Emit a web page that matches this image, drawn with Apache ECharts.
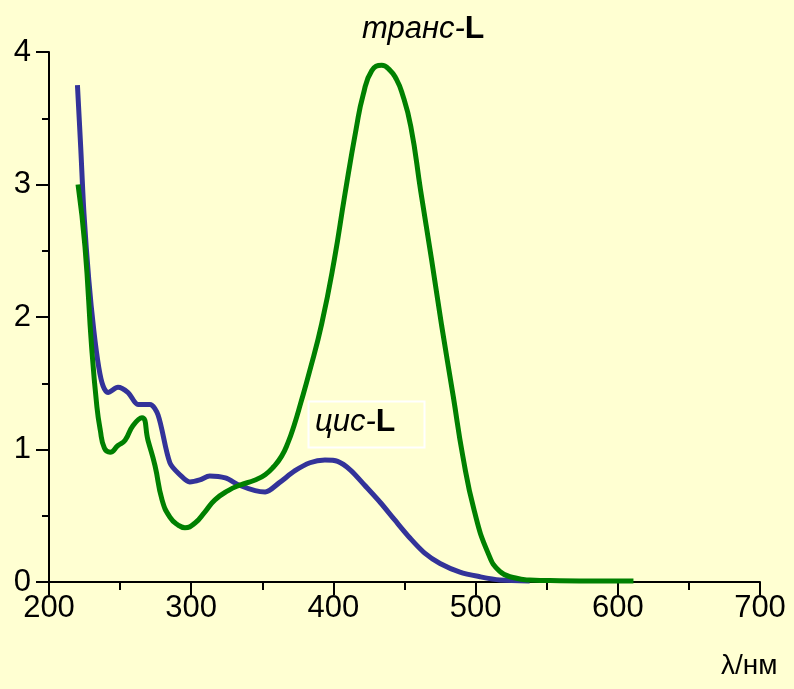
<!DOCTYPE html>
<html>
<head>
<meta charset="utf-8">
<script src="https://cdn.jsdelivr.net/npm/echarts@6/dist/echarts.min.js"></script>
<style>
  html, body { margin: 0; padding: 0; background: #FFFFD2; }
  #chart { width: 794px; height: 689px; }
</style>
</head>
<body>
<div id="chart"></div>
<script>
  // цис-L (blue)
  var cisLambda = [220, 222.3, 224.6, 228, 231.5, 235, 238, 241.5, 248.5, 255.6, 262.6, 271, 276.7, 285, 292, 299, 306, 313, 324, 334, 345, 352, 362, 373, 383.5, 394, 403, 412, 422, 433, 443, 454, 464, 475, 489, 503, 517, 538];
  var cisValue = [3.75, 3.28, 2.78, 2.28, 1.90, 1.62, 1.48, 1.43, 1.47, 1.43, 1.34, 1.34, 1.26, 0.90, 0.81, 0.755, 0.77, 0.80, 0.785, 0.73, 0.69, 0.68, 0.75, 0.84, 0.90, 0.92, 0.91, 0.845, 0.73, 0.60, 0.47, 0.33, 0.22, 0.14, 0.075, 0.04, 0.015, 0.008];

  // транс-L (green)
  var transLambda = [220.4, 225.3, 230, 233.7, 236, 239, 243, 248.5, 253.5, 259, 265.4, 269.6, 274.5, 279.5, 285, 290.7, 295.6, 302.7, 309.7, 316.7, 326, 334, 345, 352, 358, 363.6, 368, 372.3, 377, 383, 391.8, 400.6, 408, 416, 421, 427, 434, 440, 444, 448, 454.4, 461.4, 469.1, 476.2, 484.3, 491, 499, 508.7, 517, 528, 538, 559, 587, 611];
  var transValue = [3.0, 2.53, 1.77, 1.32, 1.15, 1.01, 0.98, 1.03, 1.07, 1.18, 1.24, 1.07, 0.88, 0.62, 0.49, 0.43, 0.41, 0.445, 0.53, 0.62, 0.69, 0.73, 0.77, 0.81, 0.87, 0.95, 1.05, 1.18, 1.35, 1.58, 1.95, 2.43, 2.92, 3.42, 3.68, 3.86, 3.90, 3.86, 3.80, 3.70, 3.44, 2.95, 2.43, 1.93, 1.40, 0.95, 0.54, 0.22, 0.08, 0.03, 0.015, 0.01, 0.008, 0.008];

  var xTicks = [200, 300, 400, 500, 600, 700];
  var yTicks = [0, 1, 2, 3, 4];

  function pairs(xs, ys) {
    return xs.map(function (x, i) { return [x, ys[i]]; });
  }

  var myChart = echarts.init(document.getElementById('chart'));
  var font = '"Liberation Sans", Arial, sans-serif';

  var option = {
    backgroundColor: '#FFFFD2',
    animation: false,
    grid: { left: 49, right: 34, top: 52, bottom: 107 },
    xAxis: {
      type: 'value',
      min: xTicks[0],
      max: xTicks[xTicks.length - 1],
      interval: 100,
      axisLine: { lineStyle: { color: '#000', width: 2 } },
      axisTick: { show: true, length: 13, lineStyle: { color: '#000', width: 2 } },
      minorTick: { show: true, splitNumber: 2, length: 8, lineStyle: { color: '#000', width: 2 } },
      splitLine: { show: false },
      axisLabel: { color: '#000', fontSize: 31, fontFamily: font, margin: 11 }
    },
    yAxis: {
      type: 'value',
      min: yTicks[0],
      max: yTicks[yTicks.length - 1],
      interval: 1,
      axisLine: { show: true, lineStyle: { color: '#000', width: 2 } },
      axisTick: { show: true, length: 13, lineStyle: { color: '#000', width: 2 } },
      minorTick: { show: true, splitNumber: 2, length: 7, lineStyle: { color: '#000', width: 2 } },
      splitLine: { show: false },
      axisLabel: { color: '#000', fontSize: 31, fontFamily: font, margin: 18 }
    },
    series: [{
      name: 'цис-L',
      type: 'line',
      smooth: 0.3,
      showSymbol: false,
      lineStyle: { color: '#333399', width: 5 },
      data: pairs(cisLambda, cisValue)
    }, {
      name: 'транс-L',
      type: 'line',
      smooth: 0.5,
      showSymbol: false,
      lineStyle: { color: '#008000', width: 5 },
      data: pairs(transLambda, transValue)
    }],
    graphic: [{
      type: 'text',
      left: 362, top: 13,
      style: {
        text: '{i|транс-}{b|L}',
        rich: {
          i: { fontSize: 31, fontStyle: 'italic', fontFamily: font, fill: '#000' },
          b: { fontSize: 32, fontWeight: 'bold', fontFamily: font, fill: '#000' }
        }
      }
    }, {
      type: 'rect',
      left: 306, top: 399,
      shape: { width: 116, height: 46 },
      style: { fill: 'none', stroke: '#fff', lineWidth: 2 }
    }, {
      type: 'text',
      left: 315, top: 406,
      style: {
        text: '{i|цис-}{b|L}',
        rich: {
          i: { fontSize: 31, fontStyle: 'italic', fontFamily: font, fill: '#000' },
          b: { fontSize: 32, fontWeight: 'bold', fontFamily: font, fill: '#000' }
        }
      }
    }, {
      type: 'text',
      left: 721, top: 652,
      style: { text: 'λ/нм', fontSize: 28, fontFamily: font, fill: '#000' }
    }]
  };
  myChart.setOption(option);

  window.addEventListener('resize', function () {
    myChart.resize();
  });
</script>
</body>
</html>
